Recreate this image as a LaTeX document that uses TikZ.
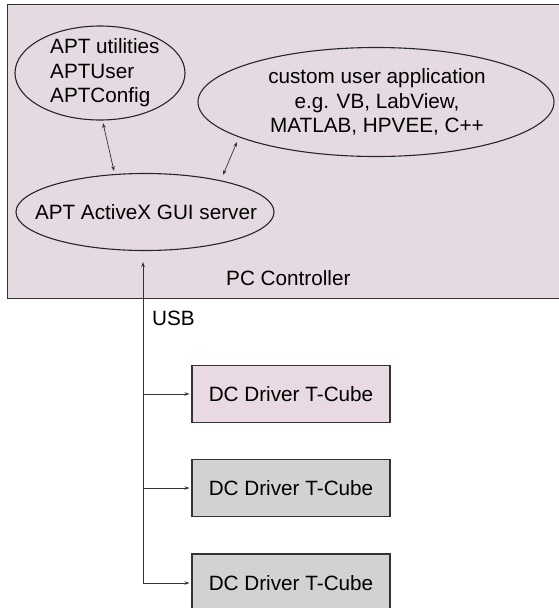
\documentclass[tikz,border=0pt]{standalone}
\usepackage{fontspec}
\setmainfont{Liberation Sans}
\usetikzlibrary{shapes.geometric,arrows.meta}
\definecolor{pcpink}{HTML}{E6DAE2}
\definecolor{cubepink}{HTML}{E8D9E3}
\definecolor{cubegray}{HTML}{D2D2D2}
\begin{document}
\begin{tikzpicture}[x=1pt,y=-1pt,
  every node/.style={font=\fontsize{20.7pt}{24.5pt}\selectfont},
  oval/.style={ellipse,draw=black!85,line width=1.1pt,inner sep=0pt,outer sep=0pt},
  cube/.style={rectangle,draw=black!80,line width=1.1pt,minimum width=198pt,minimum height=57pt,inner sep=0pt},
  arr/.style={draw=black!80,line width=0.7pt,-{Stealth[length=5pt,width=3.5pt]}},
  darr/.style={draw=black!80,line width=0.7pt,{Stealth[length=5pt,width=3.5pt]}-{Stealth[length=5pt,width=3.5pt]}}]
\useasboundingbox (0,0) rectangle (559,608);
\fill[white] (0,0) rectangle (559,608);
\node[draw=black!80,fill=pcpink,line width=1.1pt,rectangle,minimum width=552pt,minimum height=294pt,inner sep=0pt,anchor=north west] (pc) at (7,4) {};
\node[oval,minimum width=170pt,minimum height=94pt] (util) at (100,73) {};
\node[align=left,anchor=west,inner sep=0pt] (utiltext) at (50,73) {APT utilities\\APTUser\\APTConfig};
\node[oval,minimum width=356pt,minimum height=109pt] (app) at (376,102) {};
\node[align=center,inner sep=0pt] (apptext) at (377,102) {custom user application\\e.g. VB, LabView,\\MATLAB, HPVEE, C++};
\node[oval,minimum width=258pt,minimum height=77pt] (gui) at (145,212) {};
\node[inner sep=0pt] (guitext) at (146,212) {APT ActiveX GUI server};
\node[anchor=base west,inner sep=0pt] (pclabel) at (226,285) {PC Controller};
\node[anchor=base west,inner sep=0pt] (usb) at (152,325) {USB};
\node[cube,fill=cubepink] (c1) at (291,394) {DC Driver T-Cube};
\node[cube,fill=cubegray] (c2) at (291,488) {DC Driver T-Cube};
\node[cube,fill=cubegray,minimum height=58pt] (c3) at (291,583) {DC Driver T-Cube};
\coordinate (j1) at (143,394);
\coordinate (j2) at (143,488);
\coordinate (j3) at (143,583);
\coordinate (top) at (143,262);
\coordinate (u1) at (103,123);
\coordinate (u2) at (114,171);
\coordinate (a1) at (237,142);
\coordinate (a2) at (223,175);
\draw[darr] (u2) -- (u1);
\draw[darr] (a2) -- (a1);
\draw[arr] (j3) -- (top);
\draw[arr,shorten >=2pt] (j1) -- (c1.west);
\draw[arr,shorten >=2pt] (j2) -- (c2.west);
\draw[arr,shorten >=2pt] (j3) -- (c3.west);
\end{tikzpicture}
\end{document}
